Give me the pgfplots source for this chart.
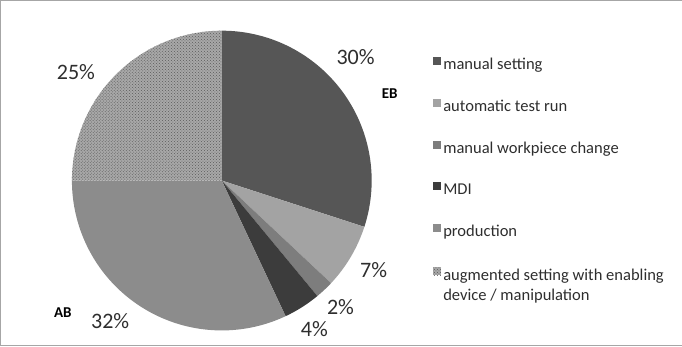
\documentclass[border=0pt]{standalone}
\usepackage{pgfplots}
\pgfplotsset{compat=1.18}
\usepackage{fontspec}
\setmainfont{Carlito}
\usetikzlibrary{patterns}
\definecolor{cA}{HTML}{565656}
\definecolor{cB}{HTML}{A3A3A3}
\definecolor{cC}{HTML}{7D7D7D}
\definecolor{cD}{HTML}{3C3C3C}
\definecolor{cE}{HTML}{8C8C8C}
\definecolor{cF}{HTML}{A8A8A8}
\definecolor{cFdots}{HTML}{5A5A5A}
\definecolor{txt}{HTML}{2E2E2E}
% shares in percent
\def\vA{30}\def\vB{7}\def\vC{2}\def\vD{4}\def\vE{32}\def\vF{25}
\begin{document}
\begin{tikzpicture}
\pgfmathsetmacro\aA{90}
\pgfmathsetmacro\aB{\aA-3.6*\vA}
\pgfmathsetmacro\aC{\aB-3.6*\vB}
\pgfmathsetmacro\aD{\aC-3.6*\vC}
\pgfmathsetmacro\aE{\aD-3.6*\vD}
\pgfmathsetmacro\aF{\aE-3.6*\vE}
\pgfmathsetmacro\aG{\aF-3.6*\vF}
\begin{axis}[
  scale only axis, width=682bp, height=349bp,
  xmin=0, xmax=682, ymin=0, ymax=349,
  hide axis, clip=false,
  legend cell align=left,
  legend image code/.code={\fill[#1] (0,-0.5bp) rectangle (8bp,7.5bp);},
  legend style={at={(axis cs:432,291)}, anchor=north west, draw=none, fill=none,
    font=\fontsize{16.5}{20}\selectfont, text=txt, row sep=24.8bp,
    nodes={inner sep=2bp}},
]
\addplot[fill=cA, draw=none, domain=\aA:\aB, samples=90] ({225+149*cos(x)},{165+149*sin(x)}) -- (axis cs:225,165) -- cycle;
\addlegendentry{manual setting}
\addplot[fill=cB, draw=none, domain=\aB:\aC, samples=30] ({225+149*cos(x)},{165+149*sin(x)}) -- (axis cs:225,165) -- cycle;
\addlegendentry{automatic test run}
\addplot[fill=cC, draw=none, domain=\aC:\aD, samples=10] ({225+149*cos(x)},{165+149*sin(x)}) -- (axis cs:225,165) -- cycle;
\addlegendentry{manual workpiece change}
\addplot[fill=cD, draw=none, domain=\aD:\aE, samples=15] ({225+149*cos(x)},{165+149*sin(x)}) -- (axis cs:225,165) -- cycle;
\addlegendentry{MDI}
\addplot[fill=cE, draw=none, domain=\aE:\aF, samples=90] ({225+149*cos(x)},{165+149*sin(x)}) -- (axis cs:225,165) -- cycle;
\addlegendentry{production}
\addplot[fill=cF, draw=none, postaction={pattern=crosshatch dots, pattern color=cFdots}, domain=\aF:\aG, samples=80] ({225+149*cos(x)},{165+149*sin(x)}) -- (axis cs:225,165) -- cycle;
\addlegendentry{\begin{tabular}[t]{@{}l@{}}augmented setting with enabling\\device / manipulation\end{tabular}}
% frame
\draw[gray!70, line width=1bp] (axis cs:682,344) -- (axis cs:5,344) -- (axis cs:5,1) -- (axis cs:682,1);
% labels
\begin{scope}[every node/.style={text=txt, font=\fontsize{22}{25}\selectfont}]
\node at (axis cs:358,288) {30\%};
\node at (axis cs:80,273) {25\%};
\node at (axis cs:376,76) {7\%};
\node at (axis cs:343,39) {2\%};
\node at (axis cs:317,17) {4\%};
\node at (axis cs:114,25) {32\%};
\end{scope}
\node[font=\bfseries\fontsize{15}{17}\selectfont, text=black] at (axis cs:392,251) {EB};
\node[font=\bfseries\fontsize{15}{17}\selectfont, text=black] at (axis cs:67,34) {AB};
\end{axis}
\end{tikzpicture}
\end{document}
